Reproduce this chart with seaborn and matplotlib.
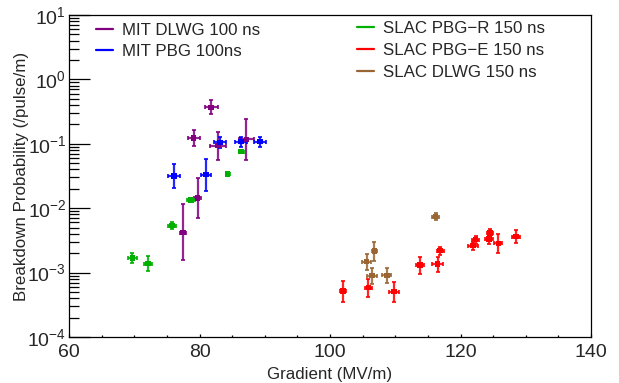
import numpy as np
import pandas as pd
import matplotlib
matplotlib.use("Agg")
import matplotlib.pyplot as plt
import matplotlib.ticker as mticker
from matplotlib.lines import Line2D
import seaborn as sns

# ---------------- data ----------------
series_names = ["MIT DLWG 100 ns", "MIT PBG 100ns", "SLAC PBG\u2212R 150 ns",
                "SLAC PBG\u2212E 150 ns", "SLAC DLWG 150 ns"]
series_colors = ["#800080", "#0000ff", "#00b000", "#ff0000", "#996633"]

mit_dlwg_g = [81.8, 79.1, 82.8, 87.2, 79.7, 77.5]
mit_dlwg_p = [0.369, 0.124, 0.0935, 0.117, 0.0143, 0.00417]
mit_dlwg_gerr = [1.0, 0.9, 1.2, 1.1, 0.6, 0.5]
mit_dlwg_plo = [0.082, 0.032, 0.0375, 0.060, 0.0073, 0.0026]
mit_dlwg_phi = [0.110, 0.040, 0.060, 0.123, 0.0148, 0.0073]

mit_pbg_g = [76.1, 81.0, 83.1, 86.4, 89.3]
mit_pbg_p = [0.0316, 0.0332, 0.105, 0.108, 0.108]
mit_pbg_gerr = [0.95, 0.7, 0.9, 0.95, 0.95]
mit_pbg_plo = [0.0108, 0.0147, 0.020, 0.018, 0.018]
mit_pbg_phi = [0.0165, 0.0256, 0.024, 0.021, 0.021]

slac_pbgr_g = [69.7, 72.1, 75.8, 78.7, 84.3, 86.4]
slac_pbgr_p = [0.00167, 0.00138, 0.00535, 0.0134, 0.034, 0.0755]
slac_pbgr_gerr = [0.65, 0.55, 0.65, 0.6, 0.3, 0.4]
slac_pbgr_plo = [0.00028, 0.00032, 0.0006, 0.0011, 0.0015, 0.003]
slac_pbgr_phi = [0.00033, 0.00045, 0.00068, 0.0012, 0.0015, 0.003]

slac_pbge_g = [102.0, 105.9, 109.8, 113.8, 116.5, 116.9, 121.9, 122.3, 124.4, 124.5, 125.8, 128.5]
slac_pbge_p = [0.000518, 0.000583, 0.000506, 0.0013, 0.00135, 0.00219, 0.00262, 0.00324,
               0.00333, 0.00412, 0.00285, 0.00361]
slac_pbge_gerr = [0.4, 0.5, 0.77, 0.55, 0.8, 0.5, 0.75, 0.6, 0.6, 0.45, 0.6, 0.55]
slac_pbge_plo = [0.00017, 0.00016, 0.000153, 0.00035, 0.00033, 0.00029, 0.00035, 0.00043,
                 0.00050, 0.00055, 0.00085, 0.00076]
slac_pbge_phi = [0.00023, 0.00021, 0.0002, 0.00043, 0.00038, 0.00034, 0.0004, 0.0005,
                 0.00058, 0.00063, 0.0011, 0.00097]

slac_dlwg_g = [105.6, 106.8, 106.4, 108.7, 116.2]
slac_dlwg_p = [0.00148, 0.00216, 0.000895, 0.000907, 0.00738]
slac_dlwg_gerr = [0.7, 0.4, 0.77, 0.7, 0.55]
slac_dlwg_plo = [0.00038, 0.00063, 0.00023, 0.00022, 0.00091]
slac_dlwg_phi = [0.00044, 0.0008, 0.00027, 0.00026, 0.00104]

x_ticks = [60, 80, 100, 120, 140]

series = [
    (mit_dlwg_g, mit_dlwg_p, mit_dlwg_gerr, mit_dlwg_plo, mit_dlwg_phi),
    (mit_pbg_g, mit_pbg_p, mit_pbg_gerr, mit_pbg_plo, mit_pbg_phi),
    (slac_pbgr_g, slac_pbgr_p, slac_pbgr_gerr, slac_pbgr_plo, slac_pbgr_phi),
    (slac_pbge_g, slac_pbge_p, slac_pbge_gerr, slac_pbge_plo, slac_pbge_phi),
    (slac_dlwg_g, slac_dlwg_p, slac_dlwg_gerr, slac_dlwg_plo, slac_dlwg_phi),
]

rows = []
for name, (g, p, ge, lo, hi) in zip(series_names, series):
    for i in range(len(g)):
        rows.append(dict(series=name, gradient=g[i], prob=p[i], gerr=ge[i], plo=lo[i], phi=hi[i]))
df = pd.DataFrame(rows)

# ---------------- plot ----------------
sns.set_theme(style="ticks")
plt.rcParams["font.family"] = ["Liberation Sans", "DejaVu Sans"]
plt.rcParams["mathtext.fontset"] = "custom"
plt.rcParams["mathtext.rm"] = "Liberation Sans"
plt.rcParams["mathtext.it"] = "Liberation Sans"

fig = plt.figure(figsize=(6.19, 3.83), dpi=100)
ax = fig.add_axes([69 / 619, 1 - 337 / 383, (591 - 69) / 619, (337 - 15) / 383])

palette = dict(zip(series_names, series_colors))
for name in series_names:
    sub = df[df.series == name]
    ax.errorbar(sub.gradient, sub.prob, xerr=sub.gerr,
                yerr=[sub.plo, sub.phi], fmt="none", ecolor=palette[name],
                elinewidth=1.6, capsize=1.4, capthick=1.4, alpha=0.85, zorder=2)
sns.scatterplot(data=df, x="gradient", y="prob", hue="series", palette=palette,
                marker="s", s=16, linewidth=0, legend=False, ax=ax, zorder=3)

ax.set_yscale("log")
ax.set_xlim(60, 140)
ax.set_ylim(1e-4, 10)
ax.set_xticks(x_ticks)
ax.xaxis.set_minor_locator(mticker.MultipleLocator(5))
ax.yaxis.set_minor_locator(mticker.LogLocator(base=10, subs=np.arange(2, 10), numticks=20))
ax.yaxis.set_minor_formatter(mticker.NullFormatter())

for s in ax.spines.values():
    s.set_color("black")
    s.set_linewidth(0.9)
ax.tick_params(axis="y", which="major", direction="in", length=15, width=0.9, color="black",
               labelsize=14, pad=2)
ax.tick_params(axis="y", which="minor", direction="in", length=7.5, width=0.9, color="black")
ax.tick_params(axis="x", which="major", direction="in", length=2.5, width=0.9, color="black",
               labelsize=14, pad=5)
ax.tick_params(axis="x", which="minor", direction="in", length=1.2, width=0.9, color="black")

ax.set_xlabel("Gradient (MV/m)", fontsize=12.2)
ax.set_ylabel("Breakdown Probability (/pulse/m)", fontsize=12.2)
ax.xaxis.set_label_coords(0.5, -(375 - 337) / 322, transform=ax.transAxes)
ax.yaxis.set_label_coords(-(69 - 22) / 522, 0.5, transform=ax.transAxes)
ax.xaxis.label.set_va("center")
ax.yaxis.label.set_va("center")
ax.grid(False)

def handles(names):
    return [Line2D([0], [0], color=palette[n], lw=1.6) for n in names]

leg_kw = dict(loc="upper left", frameon=False, fontsize=12.2, handlelength=1.0,
              handletextpad=0.55, borderpad=0.0, borderaxespad=0.0)
leg1 = ax.legend(handles(series_names[:2]), series_names[:2],
                 bbox_to_anchor=(0.052, 0.975), labelspacing=0.33, **leg_kw)
ax.add_artist(leg1)
ax.legend(handles(series_names[2:]), series_names[2:],
          bbox_to_anchor=(0.552, 0.982), labelspacing=0.42, **leg_kw)

fig.savefig("out.png", dpi=100)
